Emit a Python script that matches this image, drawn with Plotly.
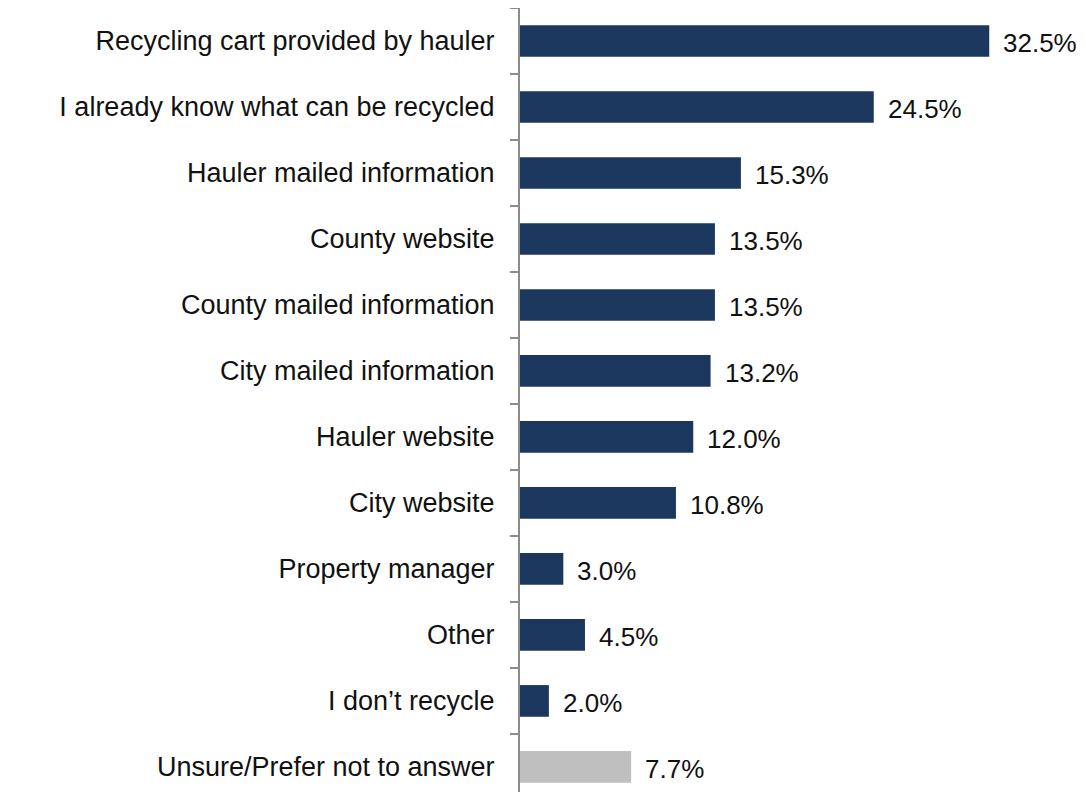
import plotly.graph_objects as go

categories = [
    "Recycling cart provided by hauler",
    "I already know what can be recycled",
    "Hauler mailed information",
    "County website",
    "County mailed information",
    "City mailed information",
    "Hauler website",
    "City website",
    "Property manager",
    "Other",
    "I don\u2019t recycle",
    "Unsure/Prefer not to answer",
]
values = [32.5, 24.5, 15.3, 13.5, 13.5, 13.2, 12.0, 10.8, 3.0, 4.5, 2.0, 7.7]

NAVY = "#1b375e"
GRAY = "#bfbfbf"
colors = [GRAY if c.startswith("Unsure") else NAVY for c in categories]
FONT = "Liberation Sans, Arial, sans-serif"

fig = go.Figure()
fig.add_trace(
    go.Bar(
        x=values,
        y=categories,
        orientation="h",
        marker=dict(color=colors, line=dict(width=0)),
        width=0.48,
        hoverinfo="x+y",
    )
)

# value labels just past the bar ends
for c, v in zip(categories, values):
    fig.add_annotation(
        x=v, y=c, text=f"{v:.1f}%", showarrow=False,
        xanchor="left", yanchor="middle", xshift=12, yshift=-2,
        font=dict(size=26, color="#111111", family=FONT),
    )

fig.update_layout(
    width=1078,
    height=784,
    margin=dict(l=512, r=0, t=0, b=0),
    plot_bgcolor="white",
    paper_bgcolor="white",
    showlegend=False,
    font=dict(family=FONT, size=27, color="#111111"),
    xaxis=dict(
        range=[0, 39.2],
        visible=False,
        fixedrange=True,
    ),
    yaxis=dict(
        type="category",
        categoryorder="array",
        categoryarray=categories,
        range=[11.38, -0.5],
        automargin=False,
        showline=True,
        linecolor="#8c8c8c",
        linewidth=2,
        ticks="outside",
        tickson="boundaries",
        ticklen=8,
        tickcolor="#8c8c8c",
        tickwidth=1.5,
        ticklabelstandoff=18,
        showgrid=False,
        zeroline=False,
        tickfont=dict(size=27, color="#111111"),
    ),
)

fig.write_html("out.html")
